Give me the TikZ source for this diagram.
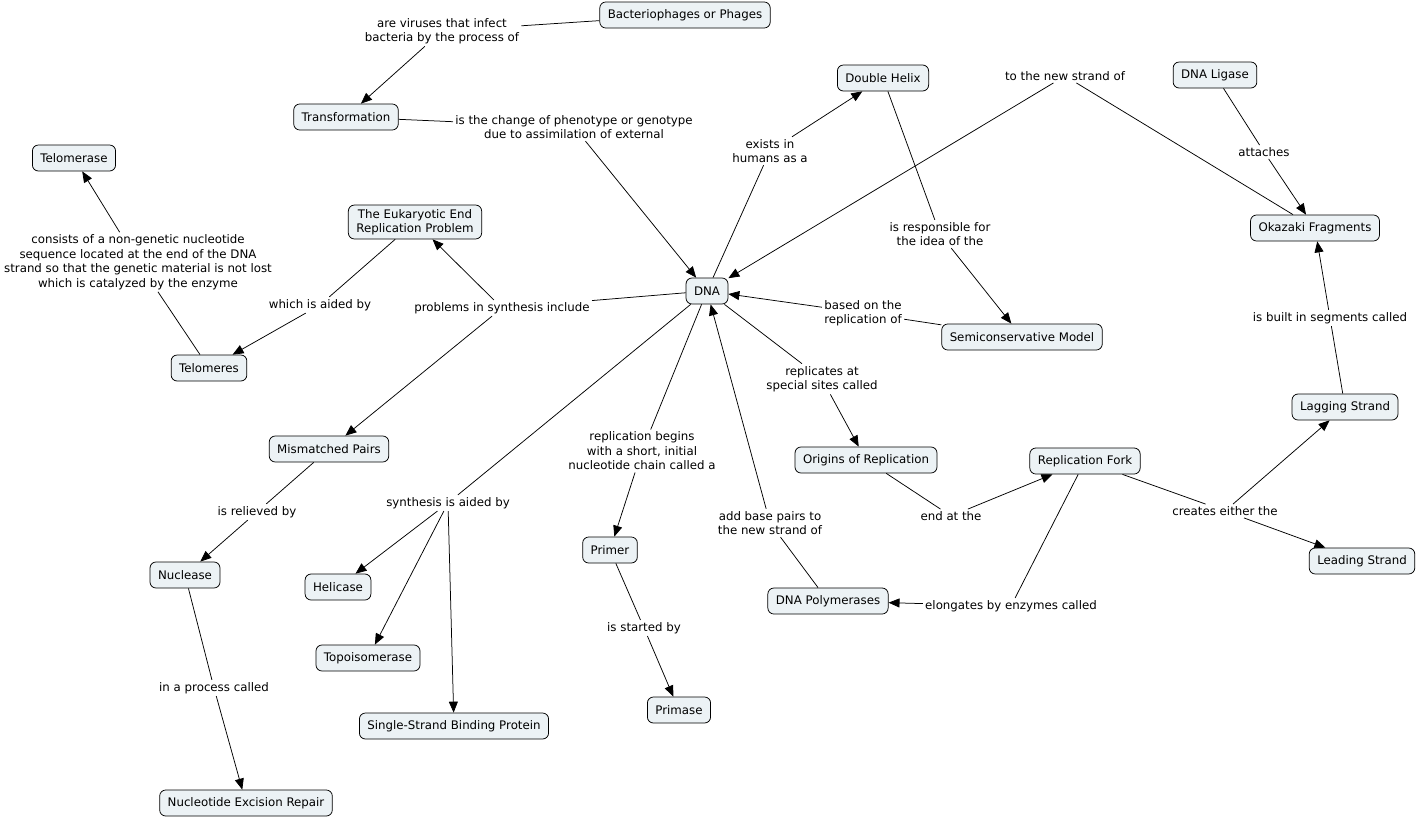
\documentclass[tikz,border=0pt]{standalone}
\usepackage{fontspec}
\setmainfont{DejaVu Sans}
\usetikzlibrary{arrows.meta}
\definecolor{cmapfill}{RGB}{236,242,245}

\begin{document}
\begin{tikzpicture}[x=1pt,y=-1pt,line width=0.75pt]
\tikzstyle{every node}=[font=\fontsize{11.8}{14.5}\selectfont, align=center]
\tikzstyle{concept}=[draw, rounded corners=6pt, fill=cmapfill, inner xsep=8pt, inner ysep=4pt, minimum height=26pt]
\tikzstyle{link}=[inner sep=2pt]
\tikzstyle{arr}=[-{Triangle[length=11pt,width=9pt]}]
\useasboundingbox (0,0) rectangle (1419,820);
% concepts
\draw (685,15) node (phages) [concept] {Bacteriophages or Phages};
\draw (346,117) node (transf) [concept] {Transformation};
\draw (883,78) node (helix) [concept] {Double Helix};
\draw (1215,75) node (ligase) [concept] {DNA Ligase};
\draw (1315,228) node (okazaki) [concept] {Okazaki Fragments};
\draw (74,158) node (telomerase) [concept] {Telomerase};
\draw (415,222) node (endprob) [concept] {The Eukaryotic End\\Replication Problem};
\draw (707,291) node (dna) [concept] {DNA};
\draw (1022,337) node (semi) [concept] {Semiconservative Model};
\draw (209,368) node (telomeres) [concept] {Telomeres};
\draw (1345,407) node (lagging) [concept] {Lagging Strand};
\draw (329,449) node (mismatch) [concept] {Mismatched Pairs};
\draw (866,460) node (origins) [concept] {Origins of Replication};
\draw (1085,461) node (fork) [concept] {Replication Fork};
\draw (610,550) node (primer) [concept] {Primer};
\draw (1362,561) node (leading) [concept] {Leading Strand};
\draw (185,575) node (nuclease) [concept] {Nuclease};
\draw (338,587) node (helicase) [concept] {Helicase};
\draw (828,601) node (polym) [concept] {DNA Polymerases};
\draw (368,658) node (topo) [concept] {Topoisomerase};
\draw (679,710) node (primase) [concept] {Primase};
\draw (454,726) node (ssb) [concept] {Single-Strand Binding Protein};
\draw (246,803) node (ner) [concept] {Nucleotide Excision Repair};
% linking phrases
\draw (442,31) node (l-infect) [link] {are viruses that infect\\bacteria by the process of};
\draw (574,127) node (l-change) [link] {is the change of phenotype or genotype\\due to assimilation of external};
\draw (1065,76) node (l-newstrand) [link] {to the new strand of};
\draw (1264,152) node (l-attach) [link] {attaches};
\draw (770,151) node (l-exists) [link] {exists in\\humans as a};
\draw (138,262) node (l-consists) [link] {consists of a non-genetic nucleotide\\sequence located at the end of the DNA\\strand so that the genetic material is not lost\\which is catalyzed by the enzyme};
\draw (940,234) node (l-resp) [link] {is responsible for\\the idea of the};
\draw (320,305) node (l-aided) [link] {which is aided by};
\draw (502,308) node (l-problems) [link] {problems in synthesis include};
\draw (863,313) node (l-based) [link] {based on the\\replication of};
\draw (1330,318) node (l-segments) [link] {is built in segments called};
\draw (822,379) node (l-sites) [link] {replicates at\\special sites called};
\draw (642,451) node (l-begins) [link] {replication begins\\with a short, initial\\nucleotide chain called a};
\draw (448,503) node (l-synth) [link] {synthesis is aided by};
\draw (951,516) node (l-end) [link] {end at the};
\draw (1225,511) node (l-creates) [link] {creates either the};
\draw (770,523) node (l-basepairs) [link] {add base pairs to\\the new strand of};
\draw (257,512) node (l-relieved) [link] {is relieved by};
\draw (1011,606) node (l-elongates) [link] {elongates by enzymes called};
\draw (644,628) node (l-started) [link] {is started by};
\draw (214,688) node (l-process) [link] {in a process called};
% connections
\draw (phages) -- (l-infect);
\draw[arr] (l-infect) -- (transf);
\draw (transf) -- (l-change);
\draw[arr] (l-change) -- (dna);
\draw (dna) -- (l-exists);
\draw[arr] (l-exists) -- (helix);
\draw (helix) -- (l-resp);
\draw[arr] (l-resp) -- (semi);
\draw (okazaki) -- (l-newstrand);
\draw[arr] (l-newstrand) -- (dna);
\draw (ligase) -- (l-attach);
\draw[arr] (l-attach) -- (okazaki);
\draw (lagging) -- (l-segments);
\draw[arr] (l-segments) -- (okazaki);
\draw (fork) -- (l-creates);
\draw[arr] (l-creates) -- (lagging);
\draw[arr] (l-creates) -- (leading);
\draw (origins) -- (l-end);
\draw[arr] (l-end) -- (fork);
\draw (dna) -- (l-sites);
\draw[arr] (l-sites) -- (origins);
\draw (fork) -- (l-elongates);
\draw[arr] (l-elongates) -- (polym);
\draw (polym) -- (l-basepairs);
\draw[arr] (l-basepairs) -- (dna);
\draw (semi) -- (l-based);
\draw[arr] (l-based) -- (dna);
\draw (dna) -- (l-begins);
\draw[arr] (l-begins) -- (primer);
\draw (primer) -- (l-started);
\draw[arr] (l-started) -- (primase);
\draw (dna) -- (l-synth);
\draw[arr] (l-synth) -- (helicase);
\draw[arr] (l-synth) -- (topo);
\draw[arr] (l-synth) -- (ssb);
\draw (dna) -- (l-problems);
\draw[arr] (l-problems) -- (endprob);
\draw[arr] (l-problems) -- (mismatch);
\draw (endprob) -- (l-aided);
\draw[arr] (l-aided) -- (telomeres);
\draw (telomeres) -- (l-consists);
\draw[arr] (l-consists) -- (telomerase);
\draw (mismatch) -- (l-relieved);
\draw[arr] (l-relieved) -- (nuclease);
\draw (nuclease) -- (l-process);
\draw[arr] (l-process) -- (ner);
\end{tikzpicture}
\end{document}
